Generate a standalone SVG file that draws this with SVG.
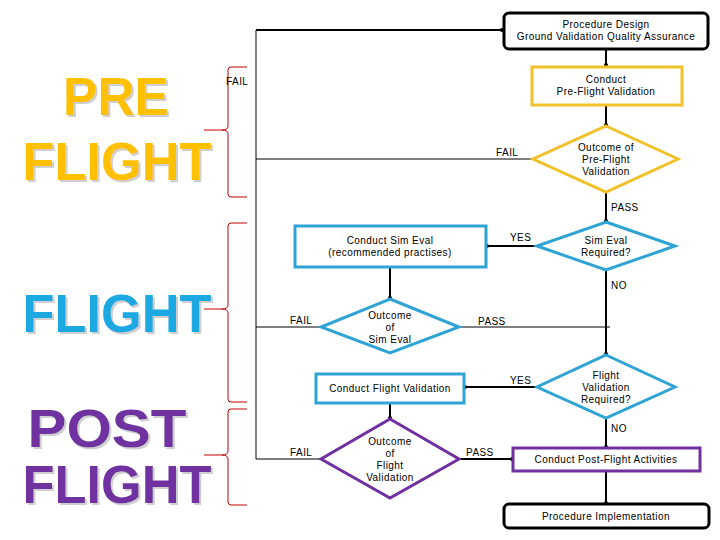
<svg xmlns="http://www.w3.org/2000/svg" width="720" height="540" viewBox="0 0 720 540">
<style>
.t{font-family:"Liberation Sans",Arial,sans-serif;font-size:10px;letter-spacing:0.45px;fill:#000;text-anchor:middle}
.l{font-family:"Liberation Sans",Arial,sans-serif;font-size:10px;letter-spacing:0.45px;fill:#000}
.big{font-family:"Liberation Sans",Arial,sans-serif;font-weight:bold;font-size:54px;text-anchor:middle;filter:url(#shadow)}
.c{fill:none;stroke:#000;stroke-width:2}
.c1{fill:none;stroke:#000;stroke-width:1}
.br{fill:none;stroke:#c00000;stroke-width:1}
.term{fill:#fff;stroke:#000;stroke-width:3}
.y{fill:#fff;stroke:#f2c029;stroke-width:3}
.b{fill:#fff;stroke:#2fa3d3;stroke-width:3}
.p{fill:#fff;stroke:#7030a0;stroke-width:3}
</style>
<defs>
<marker id="dot" viewBox="0 0 6 6" refX="3" refY="3" markerWidth="4" markerHeight="4" markerUnits="userSpaceOnUse"><circle cx="3" cy="3" r="3" fill="#000"/></marker>
<filter id="shadow" x="-5%" y="-10%" width="115%" height="130%">
<feDropShadow dx="2" dy="2" stdDeviation="0.3" flood-color="#cfcfcf" flood-opacity="1"/>
</filter>
</defs>
<rect width="720" height="540" fill="#fff"/>

<g id="phase-labels">
<text class="big" x="116" y="115" fill="#ffc000" textLength="106" lengthAdjust="spacingAndGlyphs">PRE</text>
<text class="big" x="117" y="180" fill="#ffc000" textLength="189" lengthAdjust="spacingAndGlyphs">FLIGHT</text>
<text class="big" x="117" y="332" fill="#1ba9e1" textLength="189" lengthAdjust="spacingAndGlyphs">FLIGHT</text>
<text class="big" x="107" y="447" fill="#7030a0" textLength="159" lengthAdjust="spacingAndGlyphs">POST</text>
<text class="big" x="117" y="503" fill="#7030a0" textLength="189" lengthAdjust="spacingAndGlyphs">FLIGHT</text>
</g>

<g id="braces">
<path class="br" d="M247,67 H231 Q228,67 228,70 V126 Q228,130 222,130 H204 M222,130 Q228,130 228,134 V194 Q228,197 231,197 H247"/>
<path class="br" d="M247,223 H231 Q228,223 228,226 V305 Q228,309 222,309 H204 M222,309 Q228,309 228,313 V399 Q228,402 231,402 H247"/>
<path class="br" d="M247,409 H231 Q228,409 228,412 V451 Q228,455 222,455 H204 M222,455 Q228,455 228,459 V502 Q228,505 231,505 H247"/>
</g>

<g id="connectors">
<path class="c1" d="M256,459 V30"/>
<path class="c" d="M256,30 H502" marker-end="url(#dot)"/>
<path class="c" d="M606,50 V65" marker-end="url(#dot)"/>
<path class="c" d="M606,106 V125" marker-end="url(#dot)"/>
<path class="c1" d="M533,159 H256"/>
<path class="c" d="M606,193 V221" marker-end="url(#dot)"/>
<path class="c" d="M537,246 H487" marker-end="url(#dot)"/>
<path class="c" d="M390,268 V298" marker-end="url(#dot)"/>
<path class="c1" d="M321,327 H256"/>
<path class="c1" d="M459,327 H610"/>
<path class="c" d="M606,271 V354" marker-end="url(#dot)"/>
<path class="c" d="M537,387 H465" marker-end="url(#dot)"/>
<path class="c" d="M390,404 V418" marker-end="url(#dot)"/>
<path class="c1" d="M321,459 H256"/>
<path class="c" d="M459,459 H512" marker-end="url(#dot)"/>
<path class="c" d="M606,418 V447" marker-end="url(#dot)"/>
<path class="c" d="M606,472 V503" marker-end="url(#dot)"/>
<text class="l" x="226" y="85">FAIL</text>
<text class="l" x="496" y="156">FAIL</text>
<text class="l" x="611" y="211">PASS</text>
<text class="l" x="510" y="241">YES</text>
<text class="l" x="611" y="289">NO</text>
<text class="l" x="290" y="324">FAIL</text>
<text class="l" x="478" y="325">PASS</text>
<text class="l" x="510" y="384">YES</text>
<text class="l" x="611" y="432">NO</text>
<text class="l" x="290" y="456">FAIL</text>
<text class="l" x="466" y="456">PASS</text>
</g>

<g id="procedure-design">
<rect class="term" x="504" y="13" width="204" height="36" rx="5"/>
<text class="t" x="606" y="28">Procedure Design</text>
<text class="t" x="606" y="40">Ground Validation Quality Assurance</text>
</g>

<g id="conduct-preflight">
<rect class="y" x="532" y="67" width="150" height="38"/>
<text class="t" x="606" y="83">Conduct</text>
<text class="t" x="606" y="95">Pre-Flight Validation</text>
</g>

<g id="outcome-preflight">
<polygon class="y" points="606,126 678,159 606,192 533,159"/>
<text class="t" x="606" y="151">Outcome of</text>
<text class="t" x="606" y="163">Pre-Flight</text>
<text class="t" x="606" y="175">Validation</text>
</g>

<g id="sim-eval-required">
<polygon class="b" points="606,222 675,246 606,270 537,246"/>
<text class="t" x="606" y="244">Sim Eval</text>
<text class="t" x="606" y="256">Required?</text>
</g>

<g id="conduct-sim-eval">
<rect class="b" x="295" y="226" width="191" height="41"/>
<text class="t" x="390" y="244">Conduct Sim Eval</text>
<text class="t" x="390" y="256">(recommended practises)</text>
</g>

<g id="outcome-sim-eval">
<polygon class="b" points="390,299 459,327 390,353 321,327"/>
<text class="t" x="390" y="319">Outcome</text>
<text class="t" x="390" y="331">of</text>
<text class="t" x="390" y="343">Sim Eval</text>
</g>

<g id="flight-validation-required">
<polygon class="b" points="606,355 675,387 606,418 537,387"/>
<text class="t" x="606" y="379">Flight</text>
<text class="t" x="606" y="391">Validation</text>
<text class="t" x="606" y="403">Required?</text>
</g>

<g id="conduct-flight-validation">
<rect class="b" x="316" y="374" width="148" height="29"/>
<text class="t" x="390" y="392">Conduct Flight Validation</text>
</g>

<g id="outcome-flight-validation">
<polygon class="p" points="390,419 459,459 390,498 321,459"/>
<text class="t" x="390" y="445">Outcome</text>
<text class="t" x="390" y="457">of</text>
<text class="t" x="390" y="469">Flight</text>
<text class="t" x="390" y="481">Validation</text>
</g>

<g id="conduct-post-flight">
<rect class="p" x="513" y="448" width="187" height="23"/>
<text class="t" x="606" y="463">Conduct Post-Flight Activities</text>
</g>

<g id="procedure-implementation">
<rect class="term" x="504" y="504" width="205" height="24" rx="5"/>
<text class="t" x="606" y="520">Procedure Implementation</text>
</g>
</svg>
